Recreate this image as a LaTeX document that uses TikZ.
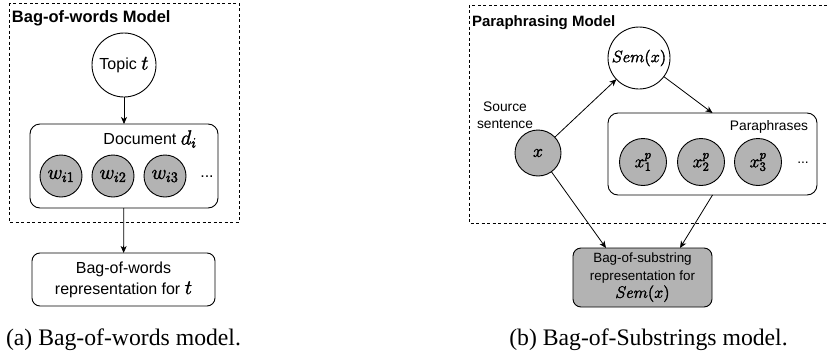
\documentclass[tikz,border=0pt]{standalone}
\usepackage{fix-cm}
\usepackage{fontspec}
\setmainfont{Liberation Serif}
\setsansfont{Liberation Sans}
\usetikzlibrary{arrows.meta}
\definecolor{nodegray}{RGB}{179,179,179}
\newcommand\heavyon{\special{pdf:literal direct 0.35 w 2 Tr}}
\newcommand\heavyoff{\special{pdf:literal direct 0 Tr}}
\newcommand\lmath[1]{{\fontsize{20.5}{21}\selectfont\heavyon$#1$\heavyoff}}
\newcommand\rmath[1]{{\fontsize{16.5}{17.5}\selectfont\heavyon$#1$\heavyoff}}
\newcommand\pmath[1]{{\fontsize{18}{18}\selectfont\heavyon$#1$\heavyoff}}
\tikzset{
  every node/.style={inner sep=0pt, outer sep=0pt},
  lt/.style={font=\sffamily\fontsize{16}{21}\selectfont, align=center},
  rt/.style={font=\sffamily\fontsize{13.8}{17}\selectfont, align=center},
  ltitle/.style={font=\sffamily\bfseries\fontsize{16.5}{19}\selectfont, anchor=west},
  rtitle/.style={font=\sffamily\bfseries\fontsize{15}{18}\selectfont, anchor=west},
  captxt/.style={font=\fontsize{23.7}{28}\selectfont},
  circ/.style={circle, draw, line width=0.9pt, fill=white},
  gcirc/.style={circle, draw, line width=0.9pt, fill=nodegray},
  rbox/.style={draw, rounded corners=10pt, line width=0.9pt, fill=white},
  arr/.style={-{Stealth[length=7pt,width=6pt,inset=2pt]}, line width=0.8pt},
  dbox/.style={draw, dash pattern=on 3pt off 2.5pt, line width=0.8pt}
}
\begin{document}
\begin{tikzpicture}[x=1pt,y=-1pt]
\useasboundingbox (0,0) rectangle (827,351);
% ---------- left panel ----------
\draw[dbox] (9,3) rectangle (239,222);
\node[ltitle] (ltit) at (12,18) {Bag-of-words Model};
\node[circ, lt, minimum size=64pt] (topic) at (124,65) {Topic \lmath{t}};
\node[rbox, minimum width=188pt, minimum height=84pt] (doc) at (124,166) {};
\node[lt] (doclab) at (150,139) {Document \lmath{d_i}};
\node[gcirc, minimum size=42pt] (w1) at (61,176) {\lmath{w_{i1}}};
\node[gcirc, minimum size=42pt] (w2) at (113,176) {\lmath{w_{i2}}};
\node[gcirc, minimum size=42pt] (w3) at (165,176) {\lmath{w_{i3}}};
\node[lt] (ldots) at (207,177) {...};
\node[rbox, rounded corners=8pt, lt, minimum width=183pt, minimum height=53pt] (bow) at (123.5,279.5) {Bag-of-words\\representation for \lmath{t}};
\draw[arr] (topic) -- (doc);
\draw[arr] (doc) -- (bow);
\node[captxt] (capa) at (123.5,340) {(a) Bag-of-words model.};
% ---------- right panel ----------
\draw[dbox] (827,5) -- (469,5) -- (469,223) -- (827,223);
\node[rtitle] (rtit) at (472,23) {Paraphrasing Model};
\node[circ, minimum size=62pt] (sem) at (639,58) {\rmath{Sem(x)}};
\node[rt] (src) at (505,115) {Source\\sentence};
\node[gcirc, minimum size=46pt] (x) at (538,153) {\pmath{x}};
\node[rbox, minimum width=209pt, minimum height=82pt] (para) at (712.5,154) {};
\node[rt] (paralab) at (769,127) {Paraphrases};
\node[gcirc, minimum size=47pt] (p1) at (643,162) {\pmath{x^p_1}};
\node[gcirc, minimum size=47pt] (p2) at (701,162) {\pmath{x^p_2}};
\node[gcirc, minimum size=47pt] (p3) at (758,162) {\pmath{x^p_3}};
\node[rt] (rdots) at (803,163) {...};
\node[rbox, rounded corners=8pt, fill=nodegray, font=\sffamily\fontsize{13.4}{17.5}\selectfont, align=center, minimum width=139pt, minimum height=59pt] (bag) at (642.5,277.5) {Bag-of-substring\\representation for\\\rmath{Sem(x)}};
\coordinate (bagin1) at (606,248);
\coordinate (bagin2) at (680,248);
\draw[arr] (x) -- (sem);
\draw[arr] (sem) -- (para.north);
\draw[arr] (x) -- (bagin1);
\draw[arr] (para.south) -- (bagin2);
\node[captxt] (capb) at (648.5,340) {(b) Bag-of-Substrings model.};
\end{tikzpicture}
\end{document}
